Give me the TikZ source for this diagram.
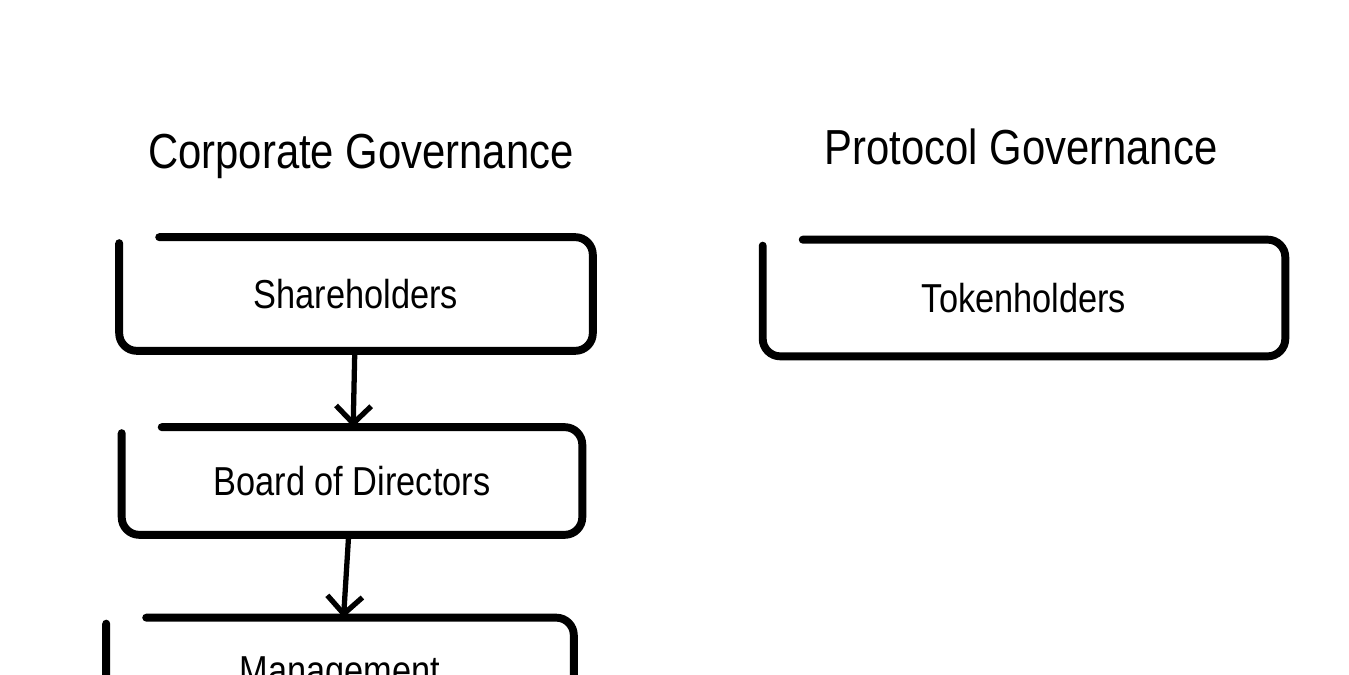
\documentclass[tikz,border=0pt]{standalone}
\usepackage{fontspec}
\setmainfont[FakeStretch=0.85]{Liberation Sans}
\usetikzlibrary{calc,arrows.meta}

% hand drawn outline round a named node, open at the top left corner
\newcommand{\sketchbox}[1]{%
  \draw[line width=4.5pt, line cap=round, line join=round, rounded corners=10pt]
    ($(#1.north west)+(40,0)$) -- (#1.north east) -- (#1.south east)
    -- (#1.south west) -- ($(#1.north west)+(0,6)$);}

\begin{document}
\begin{tikzpicture}[x=0.02cm, y=-0.02cm,
    box/.style={inner sep=0pt, font=\fontsize{23}{27}\selectfont},
    title/.style={inner sep=0pt, font=\fontsize{28}{32}\selectfont},
    link/.style={line width=3pt, -{Straight Barb[length=10pt, width=20pt]}}]
    \useasboundingbox (0,0) rectangle (1349,675);
    \clip (0,0) rectangle (1349,675);

    \node[title] (corp) at (361,156) {Corporate Governance};
    \node[title] (prot) at (1021,147) {Protocol Governance};

    \node[box, minimum width=9.46cm, minimum height=2.26cm] (sh) at (356,294) {Shareholders};
    \node[box, minimum width=9.2cm, minimum height=2.14cm] (bod) at (352,481) {Board of Directors};
    \node[box, minimum width=9.34cm, minimum height=2.28cm] (mgmt) at (340,675) {Management};
    \node[box, minimum width=10.44cm, minimum height=2.32cm] (tok) at (1024,298) {Tokenholders};

    \sketchbox{sh}
    \sketchbox{bod}
    \sketchbox{mgmt}
    \sketchbox{tok}

    \path [link] (sh) edge (bod);
    \path [link] (bod) edge (mgmt);
\end{tikzpicture}
\end{document}
